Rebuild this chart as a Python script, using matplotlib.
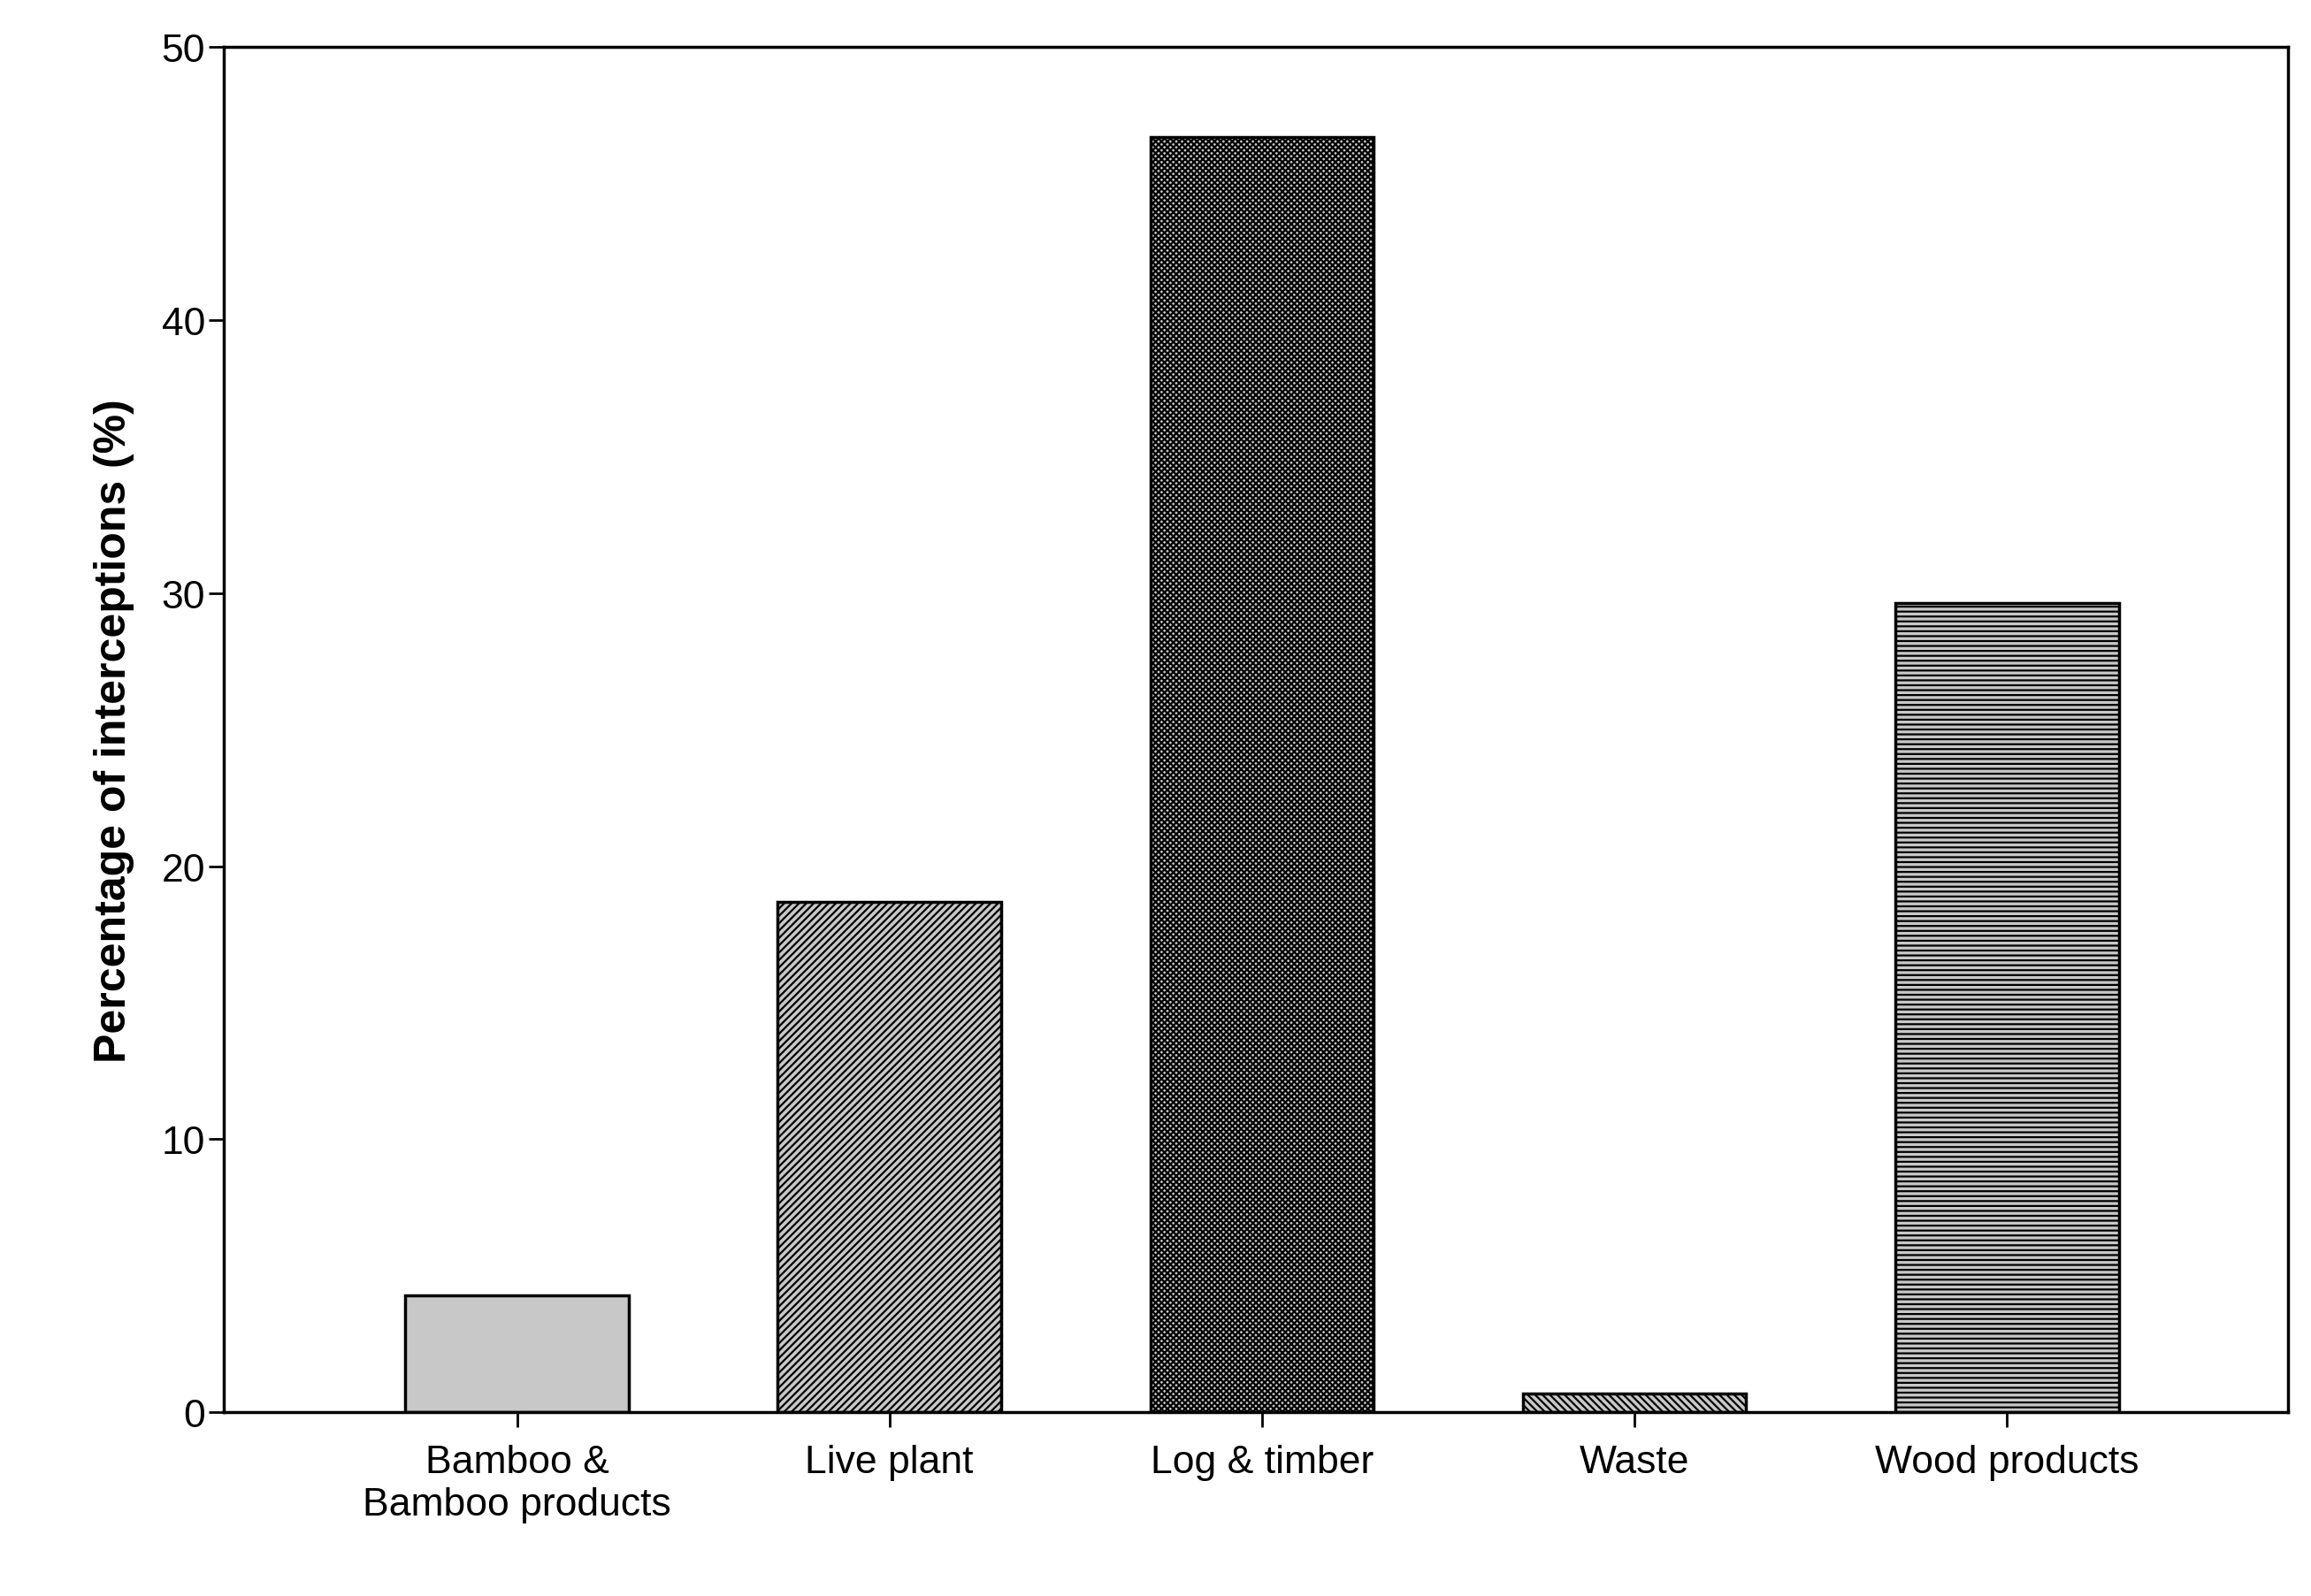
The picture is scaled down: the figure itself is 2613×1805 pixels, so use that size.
import matplotlib
matplotlib.use("Agg")
import matplotlib.pyplot as plt

categories = ["Bamboo &\nBamboo products", "Live plant", "Log & timber", "Waste", "Wood products"]
values = [4.3, 18.7, 46.7, 0.7, 29.65]
hatches = ["", "////", "xxxxx", "\\\\\\\\", "---"]

plt.rcParams["font.family"] = ["Liberation Sans", "DejaVu Sans"]
plt.rcParams["hatch.linewidth"] = 1.6

fig = plt.figure(figsize=(26.13, 18.06), dpi=100)
ax = fig.add_axes([0.097, 0.115, 0.893, 0.855])
x = range(len(categories))
for xi, v, h in zip(x, values, hatches):
    ax.bar(xi, v, width=0.6, color="#c8c8c8", edgecolor="black", linewidth=2.5, hatch=h)

ax.set_xlim(-0.786, 4.754)
ax.set_ylim(0, 50)
ax.set_yticks(range(0, 51, 10))
ax.set_xticks(list(x))
ax.set_xticklabels(categories, fontsize=32)
ax.tick_params(axis="y", labelsize=32, length=12, width=2)
ax.tick_params(axis="x", length=12, width=2, pad=14)
for s in ax.spines.values():
    s.set_linewidth(2.5)
ax.set_ylabel("Percentage of interceptions (%)", fontsize=36, fontweight="bold", labelpad=22)
fig.savefig("out.png", dpi=100)
